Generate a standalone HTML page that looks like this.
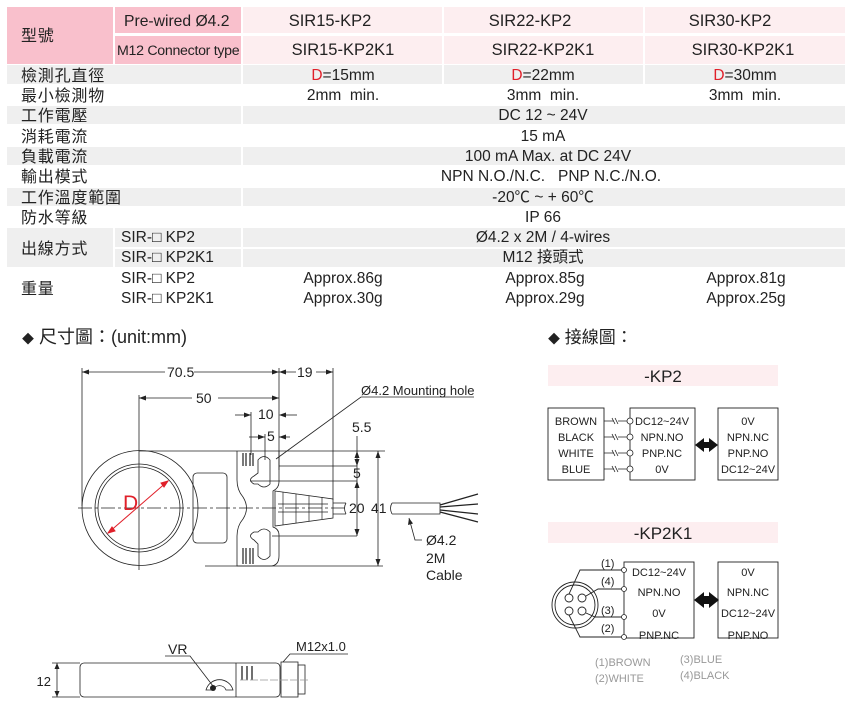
<!DOCTYPE html>
<html><head><meta charset="utf-8">
<style>
html,body{margin:0;padding:0;background:#fff;}
body{width:852px;height:716px;overflow:hidden;position:relative;}
svg{position:absolute;left:0;top:0;}
text{font-family:"Liberation Sans","Noto Sans CJK TC",sans-serif;fill:#222;white-space:pre;}
</style></head><body>
<svg width="852" height="716" viewBox="0 0 852 716" xmlns="http://www.w3.org/2000/svg" xml:space="preserve">
<g>
<rect x="7" y="7" width="106" height="57" fill="#f9c0cc"/>
<rect x="115" y="7" width="126" height="26" fill="#f9c0cc"/>
<rect x="115" y="36" width="126" height="28" fill="#f9c0cc"/>
<rect x="243" y="7" width="199" height="26" fill="#fdeef0"/>
<rect x="444" y="7" width="199" height="26" fill="#fdeef0"/>
<rect x="645" y="7" width="200" height="26" fill="#fdeef0"/>
<rect x="243" y="36" width="199" height="28" fill="#fdeef0"/>
<rect x="444" y="36" width="199" height="28" fill="#fdeef0"/>
<rect x="645" y="36" width="200" height="28" fill="#fdeef0"/>
<g fill="#efefef">
<rect x="7" y="65" width="234" height="19"/><rect x="243" y="65" width="199" height="19"/><rect x="444" y="65" width="199" height="19"/><rect x="645" y="65" width="200" height="19"/>
<rect x="7" y="106" width="234" height="18"/><rect x="243" y="106" width="602" height="18"/>
<rect x="7" y="147" width="234" height="18"/><rect x="243" y="147" width="602" height="18"/>
<rect x="7" y="188" width="234" height="18"/><rect x="243" y="188" width="602" height="18"/>
<rect x="7" y="228" width="106" height="39"/><rect x="115" y="228" width="126" height="19"/><rect x="115" y="249" width="126" height="18"/>
<rect x="243" y="228" width="602" height="19"/><rect x="243" y="249" width="602" height="18"/>
</g>
</g>
<g font-size="15.5">
<g font-size="16" letter-spacing="0.8">
<text x="21" y="41">型號</text>
<text x="21" y="81">檢測孔直徑</text>
<text x="21" y="101">最小檢測物</text>
<text x="21" y="121">工作電壓</text>
<text x="21" y="142">消耗電流</text>
<text x="21" y="162">負載電流</text>
<text x="21" y="182">輸出模式</text>
<text x="21" y="203">工作溫度範圍</text>
<text x="21" y="223">防水等級</text>
<text x="21" y="254">出線方式</text>
<text x="21" y="294">重量</text>
</g>
<text x="124" y="26" font-size="15.7">Pre-wired Ø4.2</text>
<text x="117" y="55" font-size="14.2" letter-spacing="-0.3">M12 Connector type</text>
<text x="330" y="26" text-anchor="middle" font-size="16.5">SIR15-KP2</text>
<text x="530" y="26" text-anchor="middle" font-size="16.5">SIR22-KP2</text>
<text x="730" y="26" text-anchor="middle" font-size="16.5">SIR30-KP2</text>
<text x="343" y="55" text-anchor="middle" font-size="16.5">SIR15-KP2K1</text>
<text x="543" y="55" text-anchor="middle" font-size="16.5">SIR22-KP2K1</text>
<text x="743" y="55" text-anchor="middle" font-size="16.5">SIR30-KP2K1</text>
<text x="343" y="80" text-anchor="middle"><tspan style="fill:#e0202a">D</tspan>=15mm</text>
<text x="543" y="80" text-anchor="middle"><tspan style="fill:#e0202a">D</tspan>=22mm</text>
<text x="745" y="80" text-anchor="middle"><tspan style="fill:#e0202a">D</tspan>=30mm</text>
<text x="343" y="100" text-anchor="middle">2mm  min.</text>
<text x="543" y="100" text-anchor="middle">3mm  min.</text>
<text x="745" y="100" text-anchor="middle">3mm  min.</text>
<text x="543" y="120" text-anchor="middle">DC 12 ~ 24V</text>
<text x="543" y="141" text-anchor="middle">15 mA</text>
<text x="548" y="161" text-anchor="middle">100 mA Max. at DC 24V</text>
<text x="551" y="181" text-anchor="middle">NPN N.O./N.C.   PNP N.C./N.O.</text>
<text x="543" y="202" text-anchor="middle">-20℃ ~ + 60℃</text>
<text x="543" y="222" text-anchor="middle">IP 66</text>
<text x="121" y="242">SIR-□ KP2</text>
<text x="121" y="262">SIR-□ KP2K1</text>
<text x="121" y="283">SIR-□ KP2</text>
<text x="121" y="303">SIR-□ KP2K1</text>
<text x="543" y="242" text-anchor="middle">Ø4.2 x 2M / 4-wires</text>
<text x="543" y="262" text-anchor="middle">M12 接頭式</text>
<text x="343" y="283" text-anchor="middle">Approx.86g</text>
<text x="545" y="283" text-anchor="middle">Approx.85g</text>
<text x="746" y="283" text-anchor="middle">Approx.81g</text>
<text x="343" y="303" text-anchor="middle">Approx.30g</text>
<text x="545" y="303" text-anchor="middle">Approx.29g</text>
<text x="746" y="303" text-anchor="middle">Approx.25g</text>
</g>
<text x="22" y="343" font-size="18"><tspan font-size="12">◆</tspan> 尺寸圖：(unit:mm)</text>
<text x="548" y="343" font-size="17"><tspan font-size="12">◆</tspan> 接線圖：</text>

<g stroke="#222" stroke-width="0.8" fill="none">
<line x1="82" y1="368" x2="82" y2="506"/>
<line x1="279" y1="368" x2="279" y2="470"/>
<line x1="333" y1="368" x2="333" y2="500"/>
<line x1="139" y1="395" x2="139" y2="570"/>
<line x1="251" y1="412" x2="251" y2="455"/>
<line x1="265" y1="434" x2="265" y2="460"/>
<line x1="82" y1="372" x2="165" y2="372"/><line x1="194" y1="372" x2="279" y2="372"/>
<line x1="279" y1="372" x2="296" y2="372"/><line x1="316" y1="372" x2="333" y2="372"/>
<line x1="139" y1="398" x2="192" y2="398"/><line x1="218" y1="398" x2="279" y2="398"/>
<line x1="235" y1="415" x2="251" y2="415"/><line x1="283" y1="415" x2="297" y2="415"/>
<line x1="249" y1="437" x2="265" y2="437"/><line x1="279" y1="437" x2="290" y2="437"/>
<line x1="139" y1="451" x2="385" y2="451"/>
<line x1="205" y1="566" x2="383" y2="566"/>
<line x1="279" y1="466" x2="357" y2="466"/>
<line x1="250" y1="481" x2="357" y2="481"/>
<line x1="272" y1="536" x2="357" y2="536"/>
<line x1="357" y1="436" x2="357" y2="536"/>
<line x1="378" y1="451" x2="378" y2="566"/>
<line x1="78" y1="508" x2="345" y2="508" stroke-dasharray="14,3,3,3"/>
<ellipse cx="140" cy="508" rx="58" ry="57.5"/>
<circle cx="139" cy="508" r="44"/>
<circle cx="139" cy="508" r="41"/>
<rect x="193" y="473" width="34" height="70" rx="4"/>
<path d="M237,451 L237,480 Q237,490 243,497 Q250,508 243,519 Q237,526 237,536 L237,566 L270,566 Q279,566 279,556 L279,535 Q279,529 273,527 L273,491 Q279,488 279,482 L279,451"/>
<path d="M258,473 L258,460 Q264,453 270,460 L270,484 Q264,490 258,484 L254,484 Q247,480 254,476 Z"/>
<path d="M258,544 L258,556 Q264,563 270,556 L270,532 Q264,526 258,532 L254,532 Q247,536 254,540 Z"/>
<g stroke-width="1.2"><line x1="243" y1="453" x2="243" y2="466"/><line x1="246" y1="453" x2="246" y2="466"/><line x1="250" y1="453" x2="250" y2="466"/><line x1="253" y1="453" x2="253" y2="466"/>
<line x1="243" y1="548" x2="243" y2="564"/><line x1="246" y1="548" x2="246" y2="564"/><line x1="250" y1="548" x2="250" y2="564"/><line x1="253" y1="548" x2="253" y2="564"/></g>
<path d="M275,491 L333,499 L333,518 L275,526 Z"/>
<g stroke-width="0.7"><line x1="283" y1="492" x2="283" y2="525"/><line x1="296" y1="494" x2="296" y2="523"/><line x1="309" y1="496" x2="309" y2="521"/><line x1="322" y1="497" x2="322" y2="519"/>
<line x1="278" y1="504" x2="328" y2="504"/><line x1="278" y1="512" x2="328" y2="512"/></g>
<path d="M333,503 L346,503 M333,514 L346,514 M346,503 Q343,508 346,514"/>
<path d="M392,503 L440,503 L440,514 L392,514 M392,503 Q389,508 392,514"/>
<path d="M440,505 L478,494 M440,507 L478,504 M440,510 L478,514 M440,512 L478,522" stroke-width="1.2"/>
<polyline points="474,397 361,397 276,459"/>
<polyline points="409,518 415,540 422,540"/>
</g>
<g fill="#222">
<path d="M82,372 l7,-2.5 v5z"/><path d="M279,372 l-7,-2.5 v5z"/><path d="M279,372 l7,-2.5 v5z"/><path d="M333,372 l-7,-2.5 v5z"/>
<path d="M139,398 l7,-2.5 v5z"/><path d="M279,398 l-7,-2.5 v5z"/>
<path d="M251,415 l-7,-2.5 v5z"/><path d="M279,415 l7,-2.5 v5z"/>
<path d="M265,437 l-7,-2.5 v5z"/><path d="M279,437 l7,-2.5 v5z"/>
<path d="M357,451 l-2.5,7 h5z"/><path d="M357,466 l-2.5,-7 h5z"/><path d="M357,481 l-2.5,7 h5z"/><path d="M357,536 l-2.5,-7 h5z"/>
<path d="M378,451 l-2.5,7 h5z"/><path d="M378,566 l-2.5,-7 h5z"/>
<path d="M409,518 l-1,7 l5,-1.5z"/>
</g>
<g stroke="#e0202a" stroke-width="1" fill="#e0202a">
<line x1="108" y1="533" x2="168" y2="481"/>
<path d="M168,481 l-7,2 l3,4z"/><path d="M108,533 l7,-2 l-3,-4z"/>
</g>
<text x="123" y="510" font-size="21" style="fill:#e0202a">D</text>
<g font-size="14">
<text x="167" y="377">70.5</text>
<text x="297" y="377">19</text>
<text x="196" y="403">50</text>
<text x="258" y="419">10</text>
<text x="267" y="441">5</text>
<text x="352" y="432">5.5</text>
<text x="353" y="478">5</text>
<text x="349" y="513">20</text>
<text x="371" y="513">41</text>
<text x="426" y="545">Ø4.2</text>
<text x="426" y="563">2M</text>
<text x="426" y="580">Cable</text>
<text x="361" y="395" font-size="13">Ø4.2 Mounting hole</text>
</g>

<g stroke="#222" stroke-width="0.8" fill="none">
<rect x="80" y="663" width="200" height="34" rx="4"/>
<line x1="236" y1="663" x2="236" y2="697"/>
<g stroke-width="1.3"><line x1="242" y1="666" x2="242" y2="680"/><line x1="247" y1="666" x2="247" y2="680"/><line x1="252" y1="666" x2="252" y2="680"/></g>
<rect x="281" y="662" width="17" height="35"/>
<rect x="298" y="665" width="7" height="29"/>
<line x1="240" y1="680" x2="310" y2="680" stroke="#999" stroke-dasharray="8,2"/>
<line x1="52" y1="663" x2="80" y2="663"/><line x1="52" y1="697" x2="80" y2="697"/>
<line x1="57" y1="663" x2="57" y2="697"/>
<path d="M206,690 A14,14 0 0 1 233,690 L226,690 A7,7 0 0 0 213,690 Z"/>
<polyline points="165,656 190,656 213,686"/>
<polyline points="348,654 290,654 283,662"/>
</g>
<circle cx="213" cy="688" r="3" fill="#222"/>
<path d="M57,663 l-2.5,6 h5z M57,697 l-2.5,-6 h5z" fill="#222"/>
<text x="51" y="686" font-size="13" text-anchor="end">12</text>
<text x="168" y="654" font-size="14">VR</text>
<text x="296" y="651" font-size="13">M12x1.0</text>

<rect x="548" y="365" width="230" height="21" fill="#fdeef0"/>
<text x="663" y="382" font-size="17" text-anchor="middle">-KP2</text>
<g stroke="#222" stroke-width="0.9" fill="none">
<rect x="548" y="408" width="56" height="72"/>
<rect x="630" y="408" width="65" height="72"/>
<rect x="718" y="408" width="60" height="72"/>
</g>
<g stroke="#222" stroke-width="0.8" fill="#fff">
<path d="M604,421 h10 m4,0 h10 M612,418 l3,6 M615,418 l3,6"/>
<path d="M604,437 h10 m4,0 h10 M612,434 l3,6 M615,434 l3,6"/>
<path d="M604,453 h10 m4,0 h10 M612,450 l3,6 M615,450 l3,6"/>
<path d="M604,469 h10 m4,0 h10 M612,466 l3,6 M615,466 l3,6"/>
<circle cx="630" cy="421" r="3"/><circle cx="630" cy="437" r="3"/><circle cx="630" cy="453" r="3"/><circle cx="630" cy="469" r="3"/>
</g>
<path d="M695,445 l9,-7 v4 h5 v-4 l9,7 l-9,7 v-4 h-5 v4z" fill="#111"/>
<g font-size="11">
<text x="576" y="425" text-anchor="middle">BROWN</text>
<text x="576" y="441" text-anchor="middle">BLACK</text>
<text x="576" y="457" text-anchor="middle">WHITE</text>
<text x="576" y="473" text-anchor="middle">BLUE</text>
<text x="662" y="425" text-anchor="middle">DC12~24V</text>
<text x="662" y="441" text-anchor="middle">NPN.NO</text>
<text x="662" y="457" text-anchor="middle">PNP.NC</text>
<text x="662" y="473" text-anchor="middle">0V</text>
<text x="748" y="425" text-anchor="middle">0V</text>
<text x="748" y="441" text-anchor="middle">NPN.NC</text>
<text x="748" y="457" text-anchor="middle">PNP.NO</text>
<text x="748" y="473" text-anchor="middle">DC12~24V</text>
</g>

<rect x="548" y="522" width="230" height="21" fill="#fdeef0"/>
<text x="663" y="539" font-size="17" text-anchor="middle">-KP2K1</text>
<g stroke="#222" stroke-width="0.9" fill="none">
<rect x="624" y="562" width="70" height="76"/>
<rect x="718" y="562" width="60" height="76"/>
<circle cx="575" cy="605" r="23"/>
<circle cx="575" cy="605" r="20"/>
<circle cx="569" cy="598" r="4"/><circle cx="582" cy="598" r="4"/>
<circle cx="569" cy="611" r="4"/><circle cx="582" cy="611" r="4"/>
<polyline points="569,594 580,570 624,570"/>
<polyline points="586,596 598,589 624,589"/>
<polyline points="586,613 595,617 624,617"/>
<polyline points="569,615 580,637 624,637"/>
</g>
<g fill="#fff" stroke="#222" stroke-width="0.8">
<circle cx="624" cy="570" r="2.5"/><circle cx="624" cy="589" r="2.5"/><circle cx="624" cy="617" r="2.5"/><circle cx="624" cy="637" r="2.5"/>
</g>
<path d="M694,600 l10,-8 v4 h5 v-4 l10,8 l-10,8 v-4 h-5 v4z" fill="#111"/>
<g font-size="11">
<text x="601" y="567">(1)</text>
<text x="601" y="585">(4)</text>
<text x="601" y="614">(3)</text>
<text x="601" y="632">(2)</text>
<text x="659" y="576" text-anchor="middle">DC12~24V</text>
<text x="659" y="596" text-anchor="middle">NPN.NO</text>
<text x="659" y="617" text-anchor="middle">0V</text>
<text x="659" y="639" text-anchor="middle">PNP.NC</text>
<text x="748" y="576" text-anchor="middle">0V</text>
<text x="748" y="596" text-anchor="middle">NPN.NC</text>
<text x="748" y="617" text-anchor="middle">DC12~24V</text>
<text x="748" y="639" text-anchor="middle">PNP.NO</text>
<text x="595" y="666" style="fill:#999">(1)BROWN</text>
<text x="595" y="682" style="fill:#999">(2)WHITE</text>
<text x="680" y="663" style="fill:#999">(3)BLUE</text>
<text x="680" y="679" style="fill:#999">(4)BLACK</text>
</g>
</svg>
</body></html>
